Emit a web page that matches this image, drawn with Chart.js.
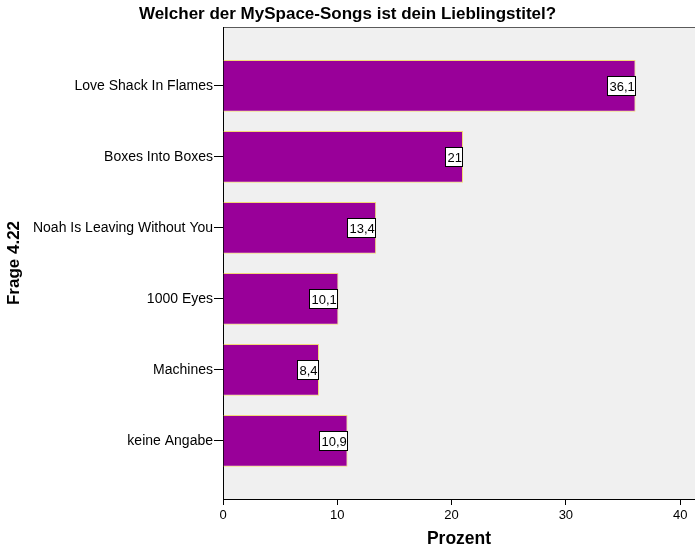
<!DOCTYPE html>
<html lang="de">
<head>
  <meta charset="UTF-8">
  <title>Frage 4.22</title>
  <script src="https://cdn.jsdelivr.net/npm/chart.js"></script>
  <style>
    html, body { margin: 0; padding: 0; background: #ffffff; }
    #wrap { width: 695px; height: 550px; }
  </style>
</head>
<body>
  <div id="wrap"><canvas id="chart" width="695" height="550"></canvas></div>

  <script>
    const songs = ['Love Shack In Flames', 'Boxes Into Boxes', 'Noah Is Leaving Without You', '1000 Eyes', 'Machines', 'keine Angabe'];
    const prozent = [36.1, 21, 13.4, 10.1, 8.4, 10.9];
    const xTicks = [0, 10, 20, 30, 40];

    const FONT = "'Liberation Sans', Arial, sans-serif";

    // grauer Plotbereich mit oberer Kante
    const plotBg = {
      id: 'plotBg',
      beforeDraw(chart) {
        const { ctx, chartArea: a } = chart;
        ctx.save();
        ctx.fillStyle = '#f0f0f0';
        ctx.fillRect(a.left, a.top, a.right - a.left, a.bottom - a.top);
        ctx.strokeStyle = '#5a5a5a';
        ctx.lineWidth = 1;
        ctx.beginPath();
        ctx.moveTo(a.left, a.top + 0.5);
        ctx.lineTo(a.right, a.top + 0.5);
        ctx.stroke();
        ctx.restore();
      }
    };

    // Wertkästchen am Ende jedes Balkens
    const valueBoxes = {
      id: 'valueBoxes',
      afterDatasetsDraw(chart) {
        const { ctx } = chart;
        const meta = chart.getDatasetMeta(0);
        ctx.save();
        ctx.font = '13px ' + FONT;
        ctx.textBaseline = 'middle';
        ctx.textAlign = 'left';
        meta.data.forEach((bar, i) => {
          const txt = String(prozent[i]).replace('.', ',');
          const w = Math.round(ctx.measureText(txt).width) + 4;
          const h = 20;
          const x = Math.round(bar.x) - w;
          const y = Math.round(bar.y - h / 2);
          ctx.fillStyle = '#ffffff';
          ctx.fillRect(x, y, w, h);
          ctx.strokeStyle = '#000000';
          ctx.lineWidth = 1;
          ctx.strokeRect(x + 0.5, y + 0.5, w - 1, h - 1);
          ctx.fillStyle = '#000000';
          ctx.fillText(txt, x + 2.5, y + h / 2 + 1);
        });
        ctx.restore();
      }
    };

    new Chart(document.getElementById('chart'), {
      type: 'bar',
      data: {
        datasets: [{
          data: prozent.map((v, i) => ({ x: v, y: i })),
          backgroundColor: '#990099',
          borderColor: '#f2d878',
          borderWidth: 1,
          barPercentage: 0.73,
          categoryPercentage: 1
        }]
      },
      options: {
        indexAxis: 'y',
        responsive: false,
        animation: false,
        layout: { padding: 0 },
        plugins: {
          legend: { display: false },
          tooltip: { enabled: false },
          title: {
            display: true,
            text: 'Welcher der MySpace-Songs ist dein Lieblingstitel?',
            color: '#000000',
            font: { family: FONT, size: 17, weight: 'bold' },
            padding: { top: 4, bottom: 2.6 }
          }
        },
        scales: {
          x: {
            type: 'linear',
            min: 0,
            max: 41.3,
            afterBuildTicks: s => { s.ticks = xTicks.map(v => ({ value: v })); },
            afterFit: s => { s.height = 51; },
            border: { color: '#000000', width: 1 },
            grid: { drawOnChartArea: false, drawTicks: true, tickLength: 6, color: '#000000' },
            ticks: { color: '#000000', padding: 3, font: { family: FONT, size: 13 } },
            title: {
              display: true,
              text: 'Prozent',
              color: '#000000',
              font: { family: FONT, size: 17.5, weight: 'bold' },
              padding: { top: 0, bottom: 0 }
            }
          },
          y: {
            type: 'linear',
            reverse: true,
            offset: false,
            min: -0.83,
            max: 5.82,
            afterBuildTicks: s => { s.ticks = songs.map((_, i) => ({ value: i })); },
            afterFit: s => { s.width = 223; },
            border: { color: '#000000', width: 1 },
            grid: { offset: false, drawOnChartArea: false, drawTicks: true, tickLength: 9, color: '#000000' },
            ticks: {
              color: '#000000',
              padding: 1,
              font: { family: FONT, size: 14 },
              callback: v => songs[v]
            },
            title: {
              display: true,
              text: 'Frage 4.22',
              color: '#000000',
              font: { family: FONT, size: 17, weight: 'bold' },
              padding: { top: 4, bottom: 0 }
            }
          }
        }
      },
      plugins: [plotBg, valueBoxes]
    });
  </script>
</body>
</html>
